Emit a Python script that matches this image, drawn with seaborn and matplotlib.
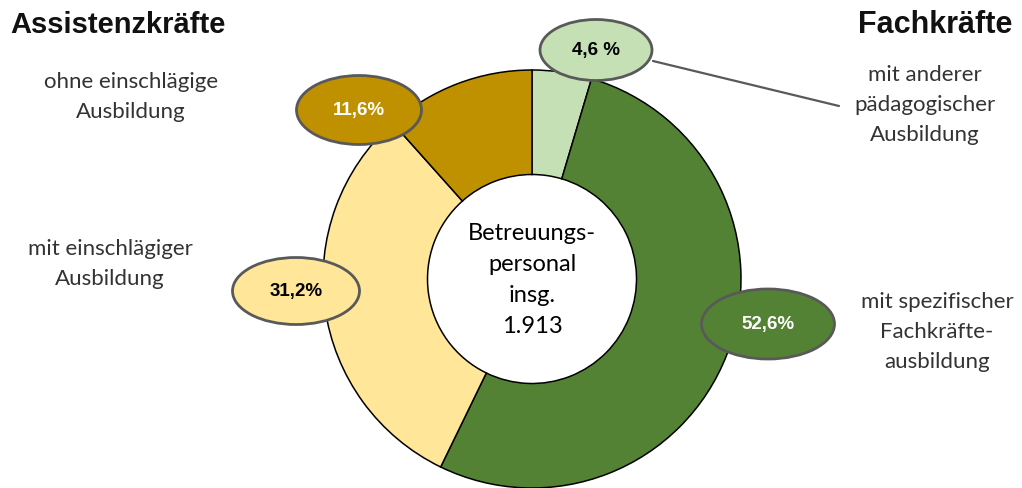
import seaborn as sns
import matplotlib.pyplot as plt
from matplotlib.patches import Ellipse

# data
kategorien = ['mit anderer pädagogischer Ausbildung',
              'mit spezifischer Fachkräfteausbildung',
              'mit einschlägiger Ausbildung',
              'ohne einschlägige Ausbildung']
anteile = [4.6, 52.6, 31.2, 11.6]
anteil_labels = ['4,6 %', '52,6%', '31,2%', '11,6%']
farben = ['#C5E0B4', '#548235', '#FFE699', '#BF9000']
label_text_farben = ['black', 'white', 'black', 'white']
gesamt = '1.913'

sns.set_theme(style='white')
plt.rcParams['font.family'] = ['Lato', 'DejaVu Sans']

W, H = 1022, 489
fig = plt.figure(figsize=(W / 100, H / 100), dpi=100)
ax = fig.add_axes([0, 0, 1, 1])

cx, cy, r = 532, H - 280, 209
ax.pie(anteile, colors=farben, startangle=90, counterclock=False,
       center=(cx, cy), radius=r, frame=True,
       wedgeprops=dict(width=r * 0.5, edgecolor='black', linewidth=1.1))
ax.set_xlim(0, W)
ax.set_ylim(0, H)
ax.set_aspect('equal')
ax.axis('off')

# leader line for the small slice
ax.plot([653, 839], [H - 62, H - 107], color='#595959', lw=1.6, zorder=3)

# ellipse data labels (layout positions)
label_pos = [(596, 51, 112, 61), (768, 325, 133, 70),
             (296, 292, 127, 67), (359, 111, 125, 69)]
for (ex, ey, ew, eh), txt, fc, tc in zip(label_pos, anteil_labels, farben, label_text_farben):
    ax.add_patch(Ellipse((ex, H - ey), ew, eh, facecolor=fc,
                         edgecolor='#595959', lw=2, zorder=4))
    ax.text(ex, H - ey, txt, ha='center', va='center', color=tc,
            fontsize=13.5, fontweight='bold', zorder=5, family='Liberation Sans')

# centre text
ax.text(cx, H - 280, 'Betreuungs-\npersonal\ninsg.\n' + gesamt,
        ha='center', va='center', fontsize=17, linespacing=1.58, color='black')

# group headings
ax.text(10, H - 25, 'Assistenzkräfte', ha='left', va='center', fontsize=21,
        fontweight='bold', family='Liberation Sans', color='#111111')
ax.text(1012, H - 25, 'Fachkräfte', ha='right', va='center', fontsize=22,
        fontweight='bold', family='Liberation Sans', color='#111111')

# category labels
lab_kw = dict(ha='center', va='center', fontsize=16, fontweight='normal',
              linespacing=1.65, color='#333333')
ax.text(131, H - 97, 'ohne einschlägige\nAusbildung', **lab_kw)
ax.text(110, H - 264, 'mit einschlägiger\nAusbildung', **lab_kw)
ax.text(925, H - 105, 'mit anderer\npädagogischer\nAusbildung', **lab_kw)
ax.text(937, H - 332, 'mit spezifischer\nFachkräfte-\nausbildung', **lab_kw)

fig.savefig('out.png', dpi=100, facecolor='white')
